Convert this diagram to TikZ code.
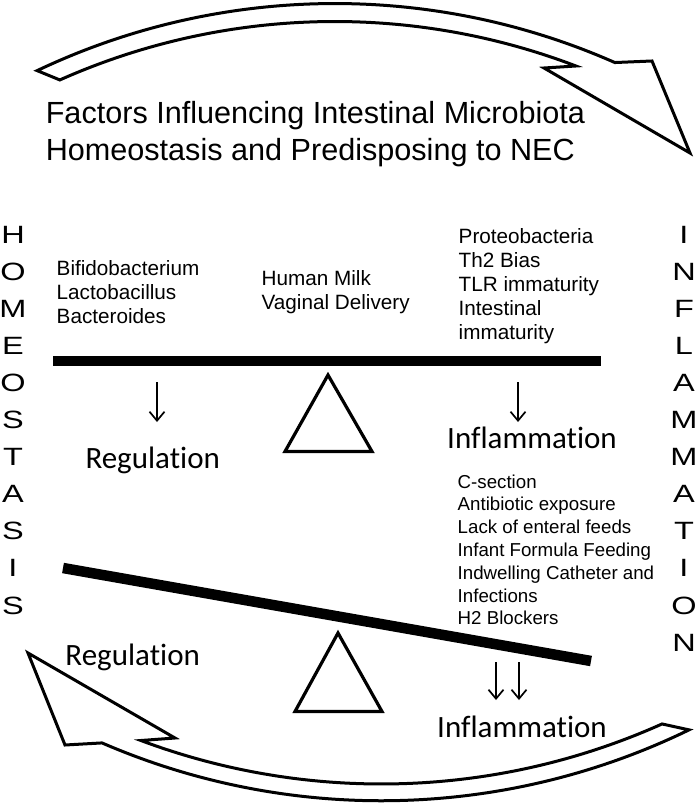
\documentclass[tikz,border=0pt]{standalone}
\usepackage{fontspec}
\setmainfont{Liberation Sans}
\newfontfamily\calfont[Ligatures={NoCommon,NoRare},RawFeature={-liga;-dlig;-clig}]{Carlito}
\newfontfamily\widefont[FakeStretch=1.3]{Liberation Sans}
\usetikzlibrary{arrows.meta,calc}
\begin{document}
\begin{tikzpicture}[x=1bp,y=1bp,yscale=-1,
  bigarrow/.style={draw=black,line width=3bp,fill=white,line join=miter},
  fulcrum/.style={draw=black,line width=3.2bp,line join=miter},
  beam/.style={line width=10.5bp},
  smallarrow/.style={line width=1.7bp,-{Straight Barb[length=9bp,width=15bp]}},
  txt/.style={inner sep=0pt,anchor=base west},
  titletxt/.style={txt,font=\fontsize{30.6bp}{37bp}\selectfont},
  bodytxt/.style={txt,font=\fontsize{20.7bp}{24bp}\selectfont},
  smalltxt/.style={txt,font=\fontsize{18.7bp}{22.8bp}\selectfont},
  caltxt/.style={txt,font=\calfont\fontsize{31bp}{37bp}\selectfont},
  letter/.style={inner sep=0pt,anchor=base,font=\widefont\fontsize{25bp}{30bp}\selectfont}]
\fill[white] (0,0) rectangle (697,807);
\useasboundingbox (0,0) rectangle (697,807);

% centres of the two curved arrows
\coordinate (tc) at (334.8,697.5);
\coordinate (bc) at (381.3,97.5);

% top curved arrow
\draw[bigarrow] (690,153) -- (544,68) -- ($(tc)+(290.9:676)$)
  arc[start angle=290.9,end angle=246,radius=676]
  -- ($(tc)+(244.6:694)$)
  arc[start angle=244.6,end angle=293.8,radius=694]
  -- (652,61) -- cycle;

% bottom curved arrow
\draw[bigarrow] (28,653) -- (65,745) -- ($(bc)+(113.4:703.3)$)
  arc[start angle=113.4,end angle=64.05,radius=703.3]
  -- ($(bc)+(65.86:686.5)$)
  arc[start angle=65.86,end angle=110.5,radius=686.5]
  -- (175,738) -- cycle;

% title
\node[titletxt] (title) at (45.6,123) {\begin{tabular}[t]{@{}l@{}}Factors Influencing Intestinal Microbiota\\Homeostasis and Predisposing to NEC\end{tabular}};

% vertical words
\foreach \l [count=\i] in {H,O,M,E,O,S,T,A,S,I,S}
  \node[letter] (h\i) at (13,{243+37.1*(\i-1)}) {\l};
\foreach \l [count=\i] in {I,N,F,L,A,M,M,A,T,I,O,N}
  \node[letter] (f\i) at (684,{243+37.1*(\i-1)}) {\l};

% upper balance
\node[bodytxt] (good) at (56.5,275) {\begin{tabular}[t]{@{}l@{}}Bifidobacterium\\Lactobacillus\\Bacteroides\end{tabular}};
\node[bodytxt] (milk) at (261.5,285) {\begin{tabular}[t]{@{}l@{}}Human Milk\\Vaginal Delivery\end{tabular}};
\node[bodytxt] (bad) at (458.5,243) {\begin{tabular}[t]{@{}l@{}}Proteobacteria\\Th2 Bias\\TLR immaturity\\Intestinal\\immaturity\end{tabular}};
\coordinate (b1l) at (53,361);
\coordinate (b1r) at (601,361);
\draw[beam] (b1l) -- (b1r);
\draw[fulcrum] (328,375) -- (372,451.5) -- (285,451.5) -- cycle;
\coordinate (a1s) at (157,382); \coordinate (a1e) at (157,422);
\coordinate (a2s) at (518,382); \coordinate (a2e) at (518,422);
\draw[smallarrow] (a1s) -- (a1e);
\draw[smallarrow] (a2s) -- (a2e);
\node[caltxt] (reg1) at (85.3,468) {Regulation};
\node[caltxt] (inf1) at (447,448) {Inflammation};

% lower balance
\node[smalltxt] (risk) at (457.5,488) {\begin{tabular}[t]{@{}l@{}}C-section\\Antibiotic exposure\\Lack of enteral feeds\\Infant Formula Feeding\\Indwelling Catheter and\\Infections\\H2 Blockers\end{tabular}};
\coordinate (b2l) at (63,568);
\coordinate (b2r) at (591,661);
\draw[beam] (b2l) -- (b2r);
\draw[fulcrum] (338,633) -- (382,711.5) -- (295,711.5) -- cycle;
\coordinate (a3s) at (496,662); \coordinate (a3e) at (496,700);
\coordinate (a4s) at (519,662); \coordinate (a4e) at (519,700);
\draw[smallarrow] (a3s) -- (a3e);
\draw[smallarrow] (a4s) -- (a4e);
\node[caltxt] (reg2) at (65.3,665) {Regulation};
\node[caltxt] (inf2) at (437,737) {Inflammation};
\end{tikzpicture}
\end{document}
